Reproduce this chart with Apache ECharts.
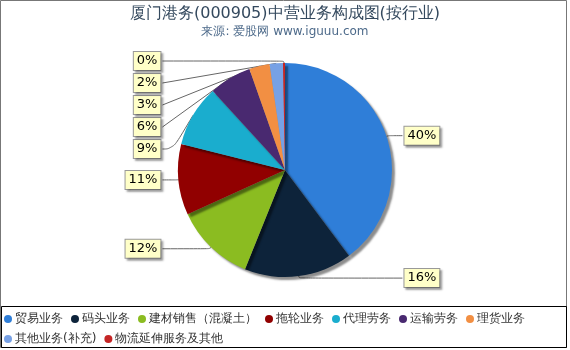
<!DOCTYPE html>
<html><head><meta charset="utf-8">
<script src="https://cdn.jsdelivr.net/npm/echarts@6/dist/echarts.min.js"></script>
<style>html,body{margin:0;padding:0;background:#fff}#c{width:570px;height:350px}</style>
</head><body><div id="c"></div>
<script>
const categories = ['贸易业务','码头业务','建材销售（混凝土）','拖轮业务','代理劳务','运输劳务','理货业务','其他业务(补充)','物流延伸服务及其他'];
const values = [39.8, 16.3, 12.1, 10.7, 9.3, 6.4, 3.1, 2.0, 0.3];
const colors = ['#2f7ed8','#0d233a','#8bbc21','#910000','#1aadce','#492970','#f28f43','#77a1e5','#c42525'];
const titleText = '厦门港务(000905)中营业务构成图(按行业)';
const subText = '来源: 爱股网 www.iguuu.com';

const chart = echarts.init(document.getElementById('c'));
chart.setOption({
  animation: false,
  color: colors,
  title: {
    text: titleText, subtext: subText, left: 'center', top: 1, itemGap: 4,
    textStyle: {fontSize: 16, fontWeight: 'normal', color: '#34495e', fontFamily: 'DejaVu Sans'},
    subtextStyle: {fontSize: 12, color: '#4d6a8a', fontFamily: 'DejaVu Sans'}
  },
  legend: {
    left: 4, top: 313, width: 560, itemWidth: 8, itemHeight: 8, itemGap: 8, icon: 'circle', padding: 0,
    textStyle: {fontSize: 12, color: '#333', fontFamily: 'DejaVu Sans', padding: [0,0,0,-2]}
  },
  graphic: [
    {type: 'rect', shape: {x: 0.5, y: 0.5, width: 566, height: 347}, style: {fill: 'none', stroke: '#777', lineWidth: 1}, z: -1},
    {type: 'rect', shape: {x: 1.5, y: 306.5, width: 565, height: 41}, style: {fill: 'none', stroke: '#000', lineWidth: 1}}
  ],
  series: [{
    type: 'pie', left: 0, top: 45, width: 570, height: 257,
    center: [285, 125], radius: 107, startAngle: 90, clockwise: true,
    data: categories.map((n, i) => ({name: n, value: values[i]})),
    itemStyle: {shadowColor: 'rgba(0,0,0,0.45)', shadowOffsetX: 3, shadowOffsetY: 3, shadowBlur: 2},
    label: {
      formatter: p => Math.round(p.percent) + '%',
      fontSize: 13, lineHeight: 14, color: '#000', fontFamily: 'DejaVu Sans',
      backgroundColor: '#ffffc8', borderColor: '#999', borderWidth: 1, padding: [2, 3],
      alignTo: 'labelLine', distanceToLabelLine: 2,
      shadowColor: 'rgba(0,0,0,0.3)', shadowOffsetX: 2, shadowOffsetY: 2, shadowBlur: 2
    },
    labelLine: {length: 2, length2: 14, smooth: 0.5, lineStyle: {color: '#666', width: 1}}
  }]
});
</script></body></html>
